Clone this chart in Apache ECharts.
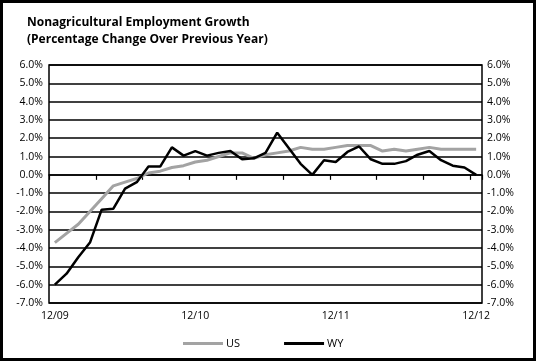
<!DOCTYPE html>
<html><head><meta charset="utf-8">
<script src="https://cdn.jsdelivr.net/npm/echarts@6/dist/echarts.min.js"></script>
<style>html,body{margin:0;padding:0;background:#fff}#c{width:536px;height:361px}</style>
</head><body><div id="c"></div>
<script>
var months = ['12/09','1/10','2/10','3/10','4/10','5/10','6/10','7/10','8/10','9/10','10/10','11/10',
  '12/10','1/11','2/11','3/11','4/11','5/11','6/11','7/11','8/11','9/11','10/11','11/11',
  '12/11','1/12','2/12','3/12','4/12','5/12','6/12','7/12','8/12','9/12','10/12','11/12','12/12'];
var usValues = [-3.7,-3.2,-2.7,-2.0,-1.3,-0.6,-0.4,-0.2,0.1,0.2,0.4,0.5,0.7,0.8,1.0,1.2,1.2,0.9,1.1,1.2,1.3,1.5,1.4,1.4,1.5,1.6,1.6,1.6,1.3,1.4,1.3,1.4,1.5,1.4,1.4,1.4,1.4];
var wyValues = [-6.0,-5.4,-4.5,-3.7,-1.9,-1.85,-0.75,-0.4,0.45,0.45,1.5,1.05,1.3,1.05,1.2,1.3,0.85,0.9,1.2,2.3,1.45,0.6,0.0,0.8,0.7,1.25,1.55,0.85,0.6,0.6,0.75,1.1,1.3,0.8,0.5,0.4,0.0];
var yTicks = {min:-7, max:6, interval:1};
var titleLines = ['Nonagricultural Employment Growth','(Percentage Change Over Previous Year)'];

var chart = echarts.init(document.getElementById('c'), null, {renderer:'canvas'});
var fontFam = '"Open Sans", "Noto Sans", sans-serif';
var yLabelFmt = function(v){ return v.toFixed(1) + '%'; };
chart.setOption({
  animation:false,
  backgroundColor:'#fff',
  title:{text:titleLines.join('\n'), left:27, top:14, padding:0,
    textStyle:{fontFamily:fontFam, fontSize:12, fontWeight:'bold', color:'#000', lineHeight:17}},
  graphic:[{type:'rect', shape:{x:1.5,y:1.5,width:533,height:358}, style:{fill:'none', stroke:'#000', lineWidth:3}, silent:true}],
  legend:{left:183, top:338, padding:0, itemWidth:40, itemHeight:3, itemGap:44, icon:'rect',
    textStyle:{fontFamily:fontFam, fontSize:11, color:'#000', padding:[0,0,0,-2]},
    data:['US','WY']},
  grid:{left:49, right:54, top:65, bottom:58, show:true, borderColor:'#000', borderWidth:1.5, containLabel:false},
  xAxis:[
    {type:'category', data:months, boundaryGap:true, position:'bottom',
      axisLine:{show:false, onZero:false}, axisTick:{show:false}, splitLine:{show:false},
      axisLabel:{interval:11, margin:8, color:'#000', fontFamily:fontFam, fontSize:10.5}},
    {type:'category', data:months, boundaryGap:true, position:'bottom',
      axisLine:{show:true, onZero:true, lineStyle:{color:'#000', width:1.5}},
      axisTick:{show:true, length:5, lineStyle:{color:'#000', width:1.2}},
      axisLabel:{show:false}, splitLine:{show:false}}
  ],
  yAxis:[
    {type:'value', position:'left', min:yTicks.min, max:yTicks.max, interval:yTicks.interval,
      axisLine:{show:false}, axisTick:{show:false},
      splitLine:{show:true, lineStyle:{color:'#000', width:1.5}},
      axisLabel:{formatter:yLabelFmt, margin:6, color:'#000', fontFamily:fontFam, fontSize:10.5}},
    {type:'value', position:'right', min:yTicks.min, max:yTicks.max, interval:yTicks.interval,
      axisLine:{show:false}, axisTick:{show:false}, splitLine:{show:false},
      axisLabel:{formatter:yLabelFmt, margin:5, color:'#000', fontFamily:fontFam, fontSize:10.5}}
  ],
  series:[
    {name:'US', type:'line', data:usValues, xAxisIndex:0, yAxisIndex:0, symbol:'none',
      lineStyle:{color:'#a3a3a3', width:3}, itemStyle:{color:'#a3a3a3'}},
    {name:'WY', type:'line', data:wyValues, xAxisIndex:0, yAxisIndex:0, symbol:'none',
      lineStyle:{color:'#000', width:2.5}, itemStyle:{color:'#000'}}
  ]
});
</script></body></html>
